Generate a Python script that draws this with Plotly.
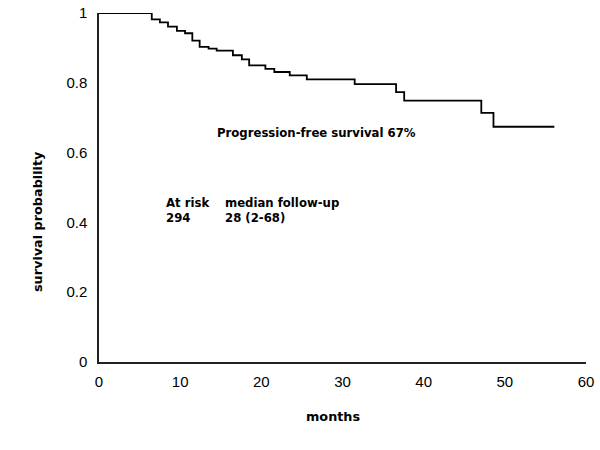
import plotly.graph_objects as go

# Kaplan-Meier step curve (months, survival probability)
months = [0, 6.5, 7.5, 8.5, 9.6, 10.6, 11.5, 12.4, 13.5, 14.5, 16.5, 17.6, 18.5,
          20.5, 21.6, 23.5, 25.6, 31.5, 36.6, 37.6, 47.1, 48.6, 56.1]
survival = [1.0, 0.982, 0.973, 0.961, 0.949, 0.942, 0.921, 0.903, 0.898, 0.892, 0.879,
            0.867, 0.850, 0.840, 0.831, 0.821, 0.810, 0.796, 0.773, 0.749, 0.714,
            0.674, 0.674]

x_ticks = [0, 10, 20, 30, 40, 50, 60]
y_ticks = [0, 0.2, 0.4, 0.6, 0.8, 1]
y_tick_labels = ["0", "0.2", "0.4", "0.6", "0.8", "1"]

bold_font = dict(family="DejaVu Sans", size=11.7, color="black")
title_font = dict(family="DejaVu Sans", size=12.8, color="black")
tick_font = dict(family="Liberation Sans, Arial", size=15, color="black")

fig = go.Figure()
fig.add_trace(go.Scatter(
    x=months, y=survival, mode="lines",
    line=dict(shape="hv", color="black", width=1.8),
    hoverinfo="x+y", showlegend=False,
))

fig.update_layout(
    width=600, height=450,
    margin=dict(l=99, r=14, t=13, b=88),
    paper_bgcolor="white", plot_bgcolor="white",
    xaxis=dict(range=[0, 60], tickvals=x_ticks, showgrid=False, zeroline=False,
               showline=True, linecolor="#222", linewidth=1.5, ticks="",
               automargin=False, ticklabelstandoff=5, tickfont=tick_font),
    yaxis=dict(range=[0, 1], tickvals=y_ticks, ticktext=y_tick_labels, showgrid=False,
               zeroline=False, showline=True, linecolor="#222", linewidth=1.5, ticks="",
               automargin=False, ticklabelstandoff=7, tickfont=tick_font),
    annotations=[
        dict(text="<b>Progression-free survival 67%</b>", x=215, y=133,
             font=bold_font, xanchor="left", yanchor="middle"),
        dict(text="<b>At risk<br>294</b>", x=164, y=210, font=bold_font,
             xanchor="left", yanchor="middle", align="left"),
        dict(text="<b>median follow-up<br>28 (2-68)</b>", x=223, y=210,
             font=bold_font, xanchor="left", yanchor="middle", align="left"),
        dict(text="<b>months</b>", x=333, y=417, font=title_font,
             xanchor="center", yanchor="middle"),
        dict(text="<b>survival probability</b>", x=37, y=222, textangle=-90,
             font=title_font, xanchor="center", yanchor="middle"),
    ],
)

# convert pixel positions for annotations into paper coordinates
plot_l, plot_r, plot_t, plot_b = 99, 586, 13, 362
for a in fig.layout.annotations:
    px, py = a.x, a.y
    a.showarrow = False
    a.xref = "paper"
    a.yref = "paper"
    a.x = (px - plot_l) / (plot_r - plot_l)
    a.y = (plot_b - py) / (plot_b - plot_t)

fig.write_html("out.html", config={"displayModeBar": False},
               post_script="document.body.style.margin='0';document.body.style.overflow='hidden';")
